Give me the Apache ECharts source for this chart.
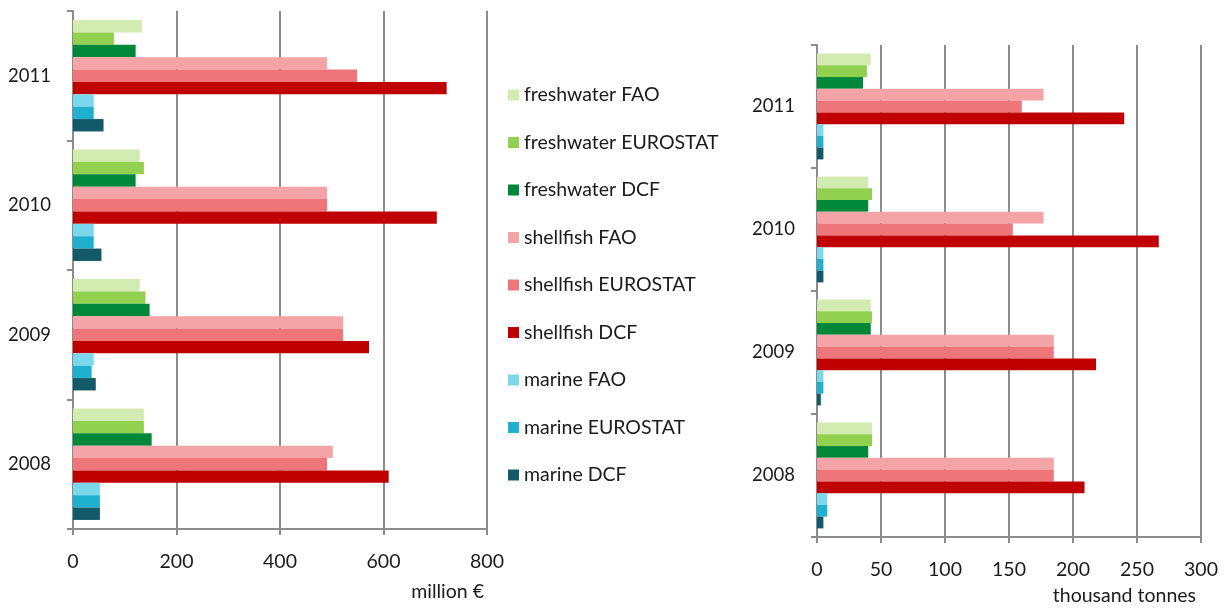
<!DOCTYPE html>
<html>
<head>
<meta charset="utf-8">
<script src="https://cdn.jsdelivr.net/npm/echarts@6/dist/echarts.min.js"></script>
<style>
  html, body { margin: 0; padding: 0; background: #ffffff; }
  #chart { width: 1231px; height: 610px; }
</style>
</head>
<body>
<div id="chart"></div>
<script>
// Years on the category axis (2008 at the bottom)
const years = ['2008', '2009', '2010', '2011'];

// Series names, top-to-bottom as listed in the legend
const seriesNames = [
  'freshwater FAO', 'freshwater EUROSTAT', 'freshwater DCF',
  'shellfish FAO', 'shellfish EUROSTAT', 'shellfish DCF',
  'marine FAO', 'marine EUROSTAT', 'marine DCF'
];

const seriesColors = [
  '#d1ebb0', '#92d050', '#00883a',
  '#f4a3a6', '#ee767b', '#c00000',
  '#7ad8ec', '#1fb0d0', '#125a6a'
];

// Value, million €, per year 2008..2011
const valueFreshwaterFAO      = [137, 129, 129, 133];
const valueFreshwaterEUROSTAT = [137, 140, 137, 79];
const valueFreshwaterDCF      = [152, 148, 121, 121];
const valueShellfishFAO       = [502, 522, 491, 491];
const valueShellfishEUROSTAT  = [491, 522, 491, 549];
const valueShellfishDCF       = [610, 572, 703, 722];
const valueMarineFAO          = [52, 40, 40, 40];
const valueMarineEUROSTAT     = [52, 36, 40, 40];
const valueMarineDCF          = [52, 44, 55, 59];

// Volume, thousand tonnes, per year 2008..2011
const volumeFreshwaterFAO      = [43, 42, 40, 42];
const volumeFreshwaterEUROSTAT = [43, 43, 43, 39];
const volumeFreshwaterDCF      = [40, 42, 40, 36];
const volumeShellfishFAO       = [185, 185, 177, 177];
const volumeShellfishEUROSTAT  = [185, 185, 153, 160];
const volumeShellfishDCF       = [209, 218, 267, 240];
const volumeMarineFAO          = [8, 5, 5, 5];
const volumeMarineEUROSTAT     = [8, 5, 5, 5];
const volumeMarineDCF          = [5, 3, 5, 5];

const valueData = [
  valueFreshwaterFAO, valueFreshwaterEUROSTAT, valueFreshwaterDCF,
  valueShellfishFAO, valueShellfishEUROSTAT, valueShellfishDCF,
  valueMarineFAO, valueMarineEUROSTAT, valueMarineDCF
];
const volumeData = [
  volumeFreshwaterFAO, volumeFreshwaterEUROSTAT, volumeFreshwaterDCF,
  volumeShellfishFAO, volumeShellfishEUROSTAT, volumeShellfishDCF,
  volumeMarineFAO, volumeMarineEUROSTAT, volumeMarineDCF
];

const FONT = 'Lato, "Open Sans", sans-serif';
const FS = 19.5;
const AXIS_FS = 18.5;
const TEXT = '#1a1a1a';
const GRIDLINE = '#8c8c8c';

function valueAxis(gridIndex, max, interval) {
  return {
    type: 'value', gridIndex, min: 0, max, interval,
    axisLine: { show: true, lineStyle: { color: GRIDLINE, width: 2 } },
    axisTick: { show: true, length: 6, lineStyle: { color: GRIDLINE, width: 2 } },
    axisLabel: { color: TEXT, fontFamily: FONT, fontSize: FS, margin: 23 },
    splitLine: { show: true, lineStyle: { color: GRIDLINE, width: 2 } }
  };
}
function categoryAxis(gridIndex) {
  return {
    type: 'category', gridIndex, data: years,
    axisLine: { show: true, lineStyle: { color: GRIDLINE, width: 2 } },
    axisTick: { show: true, length: 6, lineStyle: { color: GRIDLINE, width: 2 } },
    axisLabel: { color: TEXT, fontFamily: FONT, fontSize: AXIS_FS, margin: 22 },
    splitLine: { show: false }
  };
}

// Within each year the first series sits at the top of the band
const series = [];
seriesNames.forEach((name, i) => {
  series.push({
    name, type: 'bar', xAxisIndex: 0, yAxisIndex: 0,
    data: valueData[i], itemStyle: { color: seriesColors[i] },
    barGap: '0%', barCategoryGap: '14%'
  });
});
seriesNames.forEach((name, i) => {
  series.push({
    name, type: 'bar', xAxisIndex: 1, yAxisIndex: 1,
    data: volumeData[i], itemStyle: { color: seriesColors[i] },
    barGap: '0%', barCategoryGap: '14%'
  });
});

const chart = echarts.init(document.getElementById('chart'), null, { renderer: 'canvas' });
chart.setOption({
  animation: false,
  backgroundColor: '#ffffff',
  grid: [
    { left: 73, right: 744, top: 11, bottom: 81 },
    { left: 817, right: 30, top: 45, bottom: 73 }
  ],
  xAxis: [valueAxis(0, 800, 200), valueAxis(1, 300, 50)],
  yAxis: [categoryAxis(0), categoryAxis(1)],
  legend: {
    orient: 'vertical', left: 508, top: 85, padding: 0,
    data: seriesNames,
    itemWidth: 11, itemHeight: 11, itemGap: 27.5,
    icon: 'rect',
    textStyle: { color: TEXT, fontFamily: FONT, fontSize: FS, lineHeight: 20 }
  },
  graphic: [
    { type: 'text', right: 1231 - 484, top: 582,
      style: { text: 'million €', fill: TEXT, font: FS + 'px ' + FONT } },
    { type: 'text', right: 1231 - 1196, top: 586,
      style: { text: 'thousand tonnes', fill: TEXT, font: FS + 'px ' + FONT } }
  ],
  series
});
</script>
</body>
</html>
